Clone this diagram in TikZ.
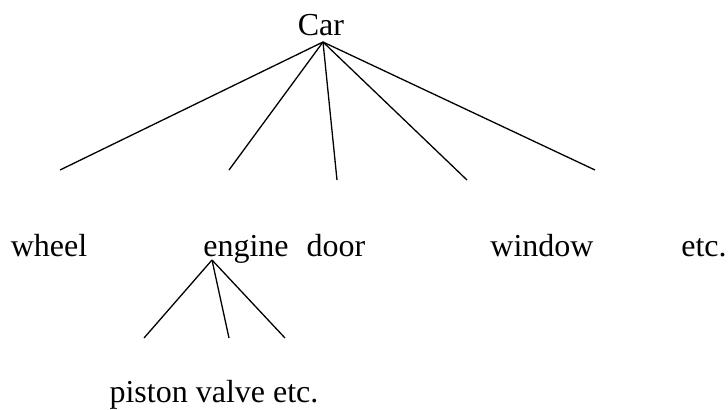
\documentclass[tikz,border=0pt]{standalone}
\usepackage{fontspec}
\setmainfont{Liberation Serif}
\begin{document}
\begin{tikzpicture}[x=0.5pt,y=-0.5pt,
  every node/.style={anchor=base,inner sep=0pt,font=\fontsize{16}{19}\selectfont},
  branch/.style={line width=0.65pt}
  ]
    \useasboundingbox (0,0) rectangle (728,409);

    \node (car) at (321,35) {Car};
    \node (wheel) at (49,256) {wheel};
    \node (engine) at (246,256) {engine};
    \node (door) at (336,256) {door};
    \node (window) at (542,256) {window};
    \node (etc) at (704,256) {etc.};
    \node (parts) at (214,402) {piston valve etc.};

    \coordinate (car-root) at (323,42);
    \coordinate (engine-root) at (212,260);

    \foreach \n/\x/\y in {wheel/60/170,engine/229/170,door/337/180,window/467/180,etc/595/170}
    {
        \coordinate (\n-end) at (\x,\y);
        \draw[branch] (car-root) -- (\n-end);
    }
    \foreach \n/\x/\y in {piston/144/338,valve/229/338,more/285/338}
    {
        \coordinate (\n-end) at (\x,\y);
        \draw[branch] (engine-root) -- (\n-end);
    }
\end{tikzpicture}
\end{document}
